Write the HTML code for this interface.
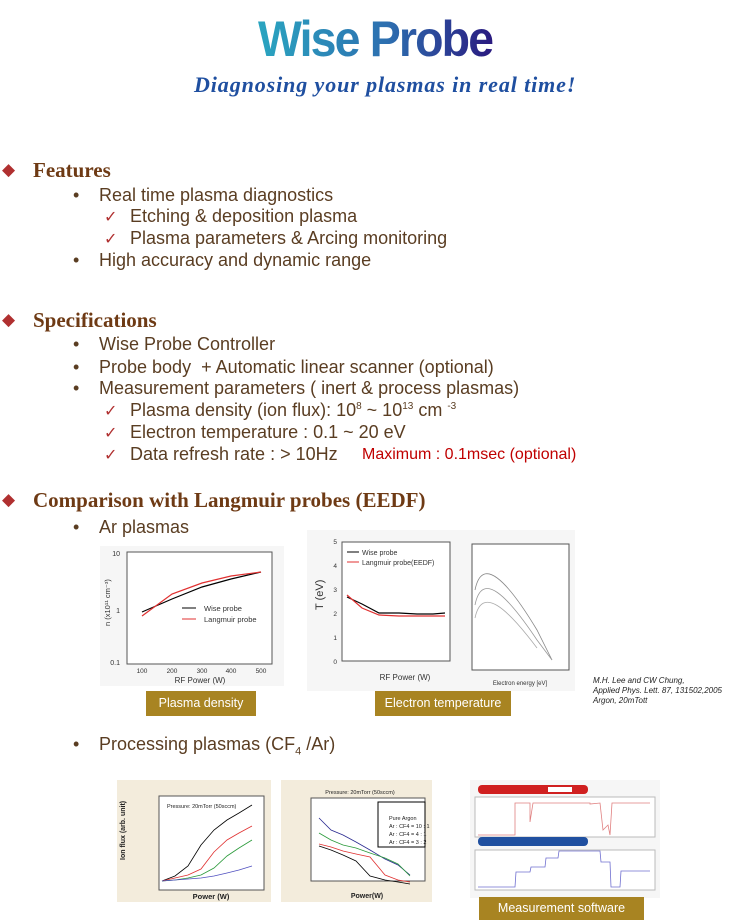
<!DOCTYPE html>
<html><head><meta charset="utf-8"><style>
body{margin:0;width:739px;height:920px;background:#fff;position:relative;overflow:hidden;font-family:"Liberation Sans",sans-serif;color:#5a3d22}
.a{position:absolute;white-space:nowrap}
.h{font-family:"Liberation Serif",serif;font-weight:bold;font-size:21px;color:#6e3a14}
.d{color:#b03030;font-size:17px}
.t{font-size:18px;color:#5a3d22}
.ck{color:#b03030;font-size:16px}
.btn{position:absolute;background:#a88422;color:#fff;font-size:12.5px;text-align:center}
svg text{font-family:"Liberation Sans",sans-serif}
</style></head><body>
<div class="a" style="left:258px;top:10px;font-size:50px;font-weight:bold;letter-spacing:-2px;transform:scaleX(0.93);transform-origin:0 0;background:linear-gradient(90deg,#2aa5c0,#2d6fb0 55%,#2a1a80);-webkit-background-clip:text;color:transparent">Wise Probe</div>
<div class="a" style="left:194px;top:72px;font-family:'Liberation Serif',serif;font-style:italic;font-weight:bold;font-size:22px;letter-spacing:0.9px;color:#1f4fa0">Diagnosing your plasmas in real time!</div>

<div class="a d" style="left:2px;top:160px">◆</div><div class="a h" style="left:33px;top:158px">Features</div>
<div class="a t" style="left:73px;top:185px">•</div><div class="a t" style="left:99px;top:185px">Real time plasma diagnostics</div>
<div class="a ck" style="left:104px;top:207px">✓</div><div class="a t" style="left:130px;top:206px">Etching &amp; deposition plasma</div>
<div class="a ck" style="left:104px;top:229px">✓</div><div class="a t" style="left:130px;top:228px">Plasma parameters &amp; Arcing monitoring</div>
<div class="a t" style="left:73px;top:250px">•</div><div class="a t" style="left:99px;top:250px">High accuracy and dynamic range</div>

<div class="a d" style="left:2px;top:310px">◆</div><div class="a h" style="left:33px;top:308px">Specifications</div>
<div class="a t" style="left:73px;top:334px">•</div><div class="a t" style="left:99px;top:334px">Wise Probe Controller</div>
<div class="a t" style="left:73px;top:357px">•</div><div class="a t" style="left:99px;top:357px">Probe body&nbsp; + Automatic linear scanner (optional)</div>
<div class="a t" style="left:73px;top:378px">•</div><div class="a t" style="left:99px;top:378px">Measurement parameters ( inert &amp; process plasmas)</div>
<div class="a ck" style="left:104px;top:401px">✓</div><div class="a t" style="left:130px;top:400px">Plasma density (ion flux): 10<sup style="font-size:10px">8</sup> ~ 10<sup style="font-size:10px">13</sup> cm <sup style="font-size:10px">-3</sup></div>
<div class="a ck" style="left:104px;top:423px">✓</div><div class="a t" style="left:130px;top:422px">Electron temperature : 0.1 ~ 20 eV</div>
<div class="a ck" style="left:104px;top:445px">✓</div><div class="a t" style="left:130px;top:444px">Data refresh rate : &gt; 10Hz</div>
<div class="a" style="left:362px;top:446px;font-size:16px;color:#c00000">Maximum : 0.1msec (optional)</div>

<div class="a d" style="left:2px;top:490px">◆</div><div class="a h" style="left:33px;top:488px">Comparison with Langmuir probes (EEDF)</div>
<div class="a t" style="left:73px;top:517px">•</div><div class="a t" style="left:99px;top:517px">Ar plasmas</div>

<svg class="a" style="left:100px;top:546px" width="184" height="140">
<rect width="184" height="140" fill="#f6f6f6"/><rect x="27" y="6" width="145" height="112" fill="#fff" stroke="#555"/>
<text x="20" y="10" font-size="7" text-anchor="end" fill="#333">10</text><text x="20" y="67" font-size="7" text-anchor="end" fill="#333">1</text><text x="20" y="119" font-size="7" text-anchor="end" fill="#333">0.1</text>
<g font-size="6.5" fill="#333" text-anchor="middle"><text x="42" y="127">100</text><text x="72" y="127">200</text><text x="102" y="127">300</text><text x="131" y="127">400</text><text x="161" y="127">500</text></g>
<text x="100" y="137" font-size="8" text-anchor="middle" fill="#333">RF Power (W)</text>
<text x="10" y="80" font-size="7.5" fill="#333" transform="rotate(-90 10 80)">n (x10¹¹ cm⁻³)</text>
<polyline points="42,66 72,53 102,41 131,33 161,26" fill="none" stroke="#000" stroke-width="1.2"/>
<polyline points="42,70 72,48 102,37 131,30 161,26" fill="none" stroke="#e03030" stroke-width="1.2"/>
<line x1="82" y1="62" x2="96" y2="62" stroke="#000"/><text x="104" y="65" font-size="7.5" fill="#333">Wise probe</text>
<line x1="82" y1="73" x2="96" y2="73" stroke="#e03030"/><text x="104" y="76" font-size="7.5" fill="#333">Langmuir probe</text>
</svg>
<svg class="a" style="left:307px;top:530px" width="268" height="161">
<rect width="268" height="161" fill="#f6f6f6"/><rect x="35" y="12" width="108" height="119" fill="#fff" stroke="#555"/>
<g font-size="6.5" fill="#333" text-anchor="end"><text x="30" y="14">5</text><text x="30" y="38">4</text><text x="30" y="62">3</text><text x="30" y="86">2</text><text x="30" y="110">1</text><text x="30" y="134">0</text></g>
<text x="16" y="80" font-size="11" fill="#333" transform="rotate(-90 16 80)">T (eV)</text>
<text x="98" y="150" font-size="8" text-anchor="middle" fill="#333">RF Power (W)</text>
<polyline points="40,67 55,74 72,83 92,83 110,84 126,84 138,83" fill="none" stroke="#000" stroke-width="1.2"/>
<polyline points="40,65 55,78 72,85 92,86 110,86 126,86 138,86" fill="none" stroke="#e03030" stroke-width="1.2"/>
<line x1="40" y1="22" x2="52" y2="22" stroke="#000"/><text x="55" y="25" font-size="7" fill="#333">Wise probe</text>
<line x1="40" y1="32" x2="52" y2="32" stroke="#e03030"/><text x="55" y="35" font-size="7" fill="#333">Langmuir probe(EEDF)</text>
<rect x="165" y="14" width="97" height="126" fill="#fff" stroke="#555"/>
<path d="M168,60 C175,25 200,50 230,100 L245,130" fill="none" stroke="#888" stroke-width="0.8"/>
<path d="M168,75 C175,40 200,65 230,110 L245,130" fill="none" stroke="#999" stroke-width="0.8"/>
<path d="M168,88 C175,55 200,78 230,118" fill="none" stroke="#aaa" stroke-width="0.8"/>
<text x="213" y="155" font-size="6" text-anchor="middle" fill="#333">Electron energy [eV]</text>
</svg>
<div class="btn" style="left:146px;top:691px;width:110px;height:25px;line-height:25px">Plasma density</div>
<div class="btn" style="left:375px;top:691px;width:136px;height:25px;line-height:25px">Electron temperature</div>
<div class="a" style="left:593px;top:676px;font-size:8px;font-style:italic;color:#222;line-height:10px">M.H. Lee and CW Chung,<br>Applied Phys. Lett. 87, 131502,2005<br>Argon, 20mTott</div>

<div class="a t" style="left:73px;top:734px">•</div><div class="a t" style="left:99px;top:734px">Processing plasmas (CF<sub style="font-size:11px">4</sub> /Ar)</div>

<svg class="a" style="left:117px;top:780px" width="154" height="122">
<rect width="154" height="122" fill="#f3ecdc"/><rect x="42" y="16" width="105" height="94" fill="#fff" stroke="#555"/>
<polyline points="45,101 58,96 71,86 84,65 97,50 110,40 122,33 135,25" fill="none" stroke="#000" stroke-width="0.8"/>
<polyline points="45,101 58,98 71,95 84,89 97,72 110,60 122,53 135,46" fill="none" stroke="#e03030" stroke-width="0.8"/>
<polyline points="45,101 58,100 71,98 84,95 97,88 110,76 122,68 135,60" fill="none" stroke="#2a9a3a" stroke-width="0.8"/>
<polyline points="45,101 58,100 71,99 84,98 97,96 110,93 122,90 135,86" fill="none" stroke="#5050c0" stroke-width="0.8"/>
<text x="8" y="80" font-size="7" font-weight="bold" fill="#222" transform="rotate(-90 8 80)">Ion flux (arb. unit)</text>
<text x="94" y="119" font-size="7.5" font-weight="bold" text-anchor="middle" fill="#222">Power (W)</text>
<text x="50" y="28" font-size="5.5" fill="#222">Pressure: 20mTorr (50sccm)</text>
</svg>
<svg class="a" style="left:281px;top:780px" width="151" height="122">
<rect width="151" height="122" fill="#f3ecdc"/><rect x="30" y="18" width="114" height="83" fill="#fff" stroke="#555"/>
<polyline points="38,38 50,50 62,55 75,62 89,70 104,79 117,85 129,95" fill="none" stroke="#2a2a90" stroke-width="0.8"/>
<polyline points="38,53 50,60 62,65 75,68 89,73 104,78 117,84 129,96" fill="none" stroke="#2a9a3a" stroke-width="0.8"/>
<polyline points="38,64 50,67 62,71 75,74 89,77 104,95 117,100 129,102" fill="none" stroke="#e03030" stroke-width="0.8"/>
<polyline points="38,66 50,70 62,75 75,81 89,96 104,100 117,102 129,104" fill="none" stroke="#000" stroke-width="0.8"/>
<rect x="97" y="22" width="47" height="45" fill="#fff" stroke="#000"/>
<g font-size="5.5" font-family="Liberation Serif" fill="#222"><text x="108" y="40">Pure Argon</text><text x="108" y="48">Ar : CF4 = 10 : 1</text><text x="108" y="56">Ar : CF4 = 4 : 1</text><text x="108" y="64">Ar : CF4 = 3 : 2</text></g>
<text x="79" y="14" font-size="5.5" text-anchor="middle" fill="#222">Pressure: 20mTorr (50sccm)</text>
<text x="86" y="118" font-size="7" font-weight="bold" text-anchor="middle" fill="#222">Power(W)</text>
</svg>
<svg class="a" style="left:470px;top:780px" width="190" height="118">
<rect width="190" height="118" fill="#f6f6f6"/>
<rect x="8" y="5" width="110" height="9" rx="4" fill="#d02020"/><rect x="78" y="7" width="24" height="5" fill="#fff"/>
<rect x="5" y="17" width="180" height="40" fill="#fff" stroke="#bbb"/>
<polyline points="8,55 45,55 45,23 60,23 60,42 63,23 120,23 120,24 130,23 133,50 138,45 140,55 142,23 180,23" fill="none" stroke="#e08080" stroke-width="0.8"/>
<rect x="8" y="57" width="110" height="9" rx="4" fill="#2050a0"/>
<rect x="5" y="70" width="180" height="40" fill="#fff" stroke="#bbb"/>
<polyline points="8,107 45,107 46,92 60,92 61,87 75,87 76,78 88,78 89,71 130,71 131,82 140,82 141,107 150,107 151,91 180,91" fill="none" stroke="#7070d0" stroke-width="0.8"/>
</svg>
<div class="btn" style="left:479px;top:897px;width:165px;height:23px;line-height:23px">Measurement software</div>
</body></html>
